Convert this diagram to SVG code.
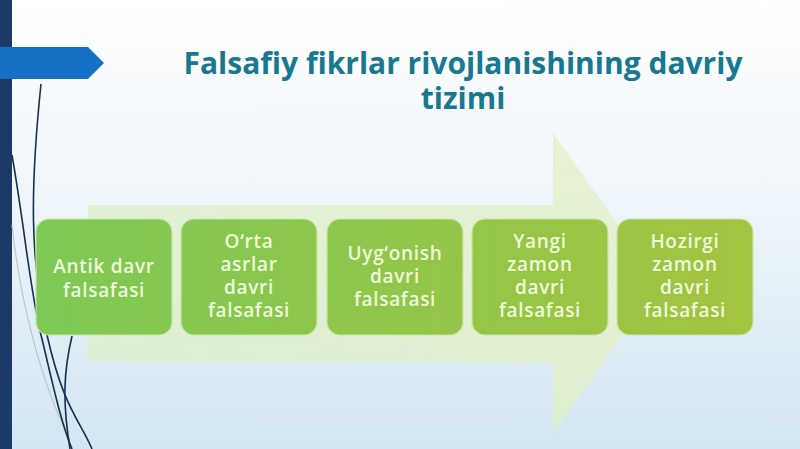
<svg xmlns="http://www.w3.org/2000/svg" width="800" height="449" viewBox="0 0 800 449">
<defs>
<linearGradient id="bg" x1="0" y1="0" x2="0" y2="1">
<stop offset="0" stop-color="#ffffff"/>
<stop offset="0.45" stop-color="#eef5fa"/>
<stop offset="1" stop-color="#d3e6f3"/>
</linearGradient>
<linearGradient id="bigArrow" x1="0" y1="0" x2="1" y2="0">
<stop offset="0" stop-color="#dcefc8"/>
<stop offset="1" stop-color="#e4f0c6"/>
</linearGradient>
<linearGradient id="boxFill" gradientUnits="userSpaceOnUse" x1="36" y1="0" x2="753" y2="0">
<stop offset="0" stop-color="#7ec855"/>
<stop offset="1" stop-color="#a3c43f"/>
</linearGradient>
<style>
.box{fill:url(#boxFill);stroke:#c8e6a8;stroke-width:1.2;}
.lbl{font-family:"Open Sans","Noto Sans","DejaVu Sans",sans-serif;font-weight:600;font-size:19px;letter-spacing:0.7px;fill:#eef8dc;text-anchor:middle;}
.title{font-family:"Open Sans","Noto Sans","DejaVu Sans",sans-serif;font-weight:700;font-size:30px;fill:#187890;text-anchor:middle;}
.curve{fill:none;stroke:#16304f;stroke-width:1.6;}
</style>
</defs>
<rect x="0" y="0" width="800" height="449" fill="url(#bg)"/>
<rect x="0" y="0" width="12" height="449" fill="#1b3a68"/>
<g id="decor">
<path fill="none" stroke="#b9c6d0" stroke-width="1.2" d="M12,225 C20,300 40,380 70,440"/>
<path class="curve" d="M41,84 C30,190 30,260 47,335 S80,420 92,449"/>
<path class="curve" d="M12,155 C25,230 30,290 41,335 S60,420 72,449"/>
<path class="curve" d="M72,336 C64,370 62,400 70,449"/>
</g>
<polygon points="0,47 88,47 104,63 88,79 0,79" fill="#1570c6"/>
<g id="title">
<text class="title" x="463" y="74">Falsafiy fikrlar rivojlanishining davriy</text>
<text class="title" x="463" y="109">tizimi</text>
</g>
<polygon id="big-arrow" points="88,205 553,205 553,133 660,283 553,433 553,362 88,362" fill="url(#bigArrow)" opacity="0.75"/>
<g id="node-antik">
<rect class="box" x="36" y="219" width="136" height="116" rx="13"/>
<text class="lbl" x="104" y="273">Antik davr</text>
<text class="lbl" x="104" y="297">falsafasi</text>
</g>
<g id="node-orta">
<rect class="box" x="181" y="219" width="136" height="116" rx="13"/>
<text class="lbl" x="249" y="248">O‘rta</text>
<text class="lbl" x="249" y="271">asrlar</text>
<text class="lbl" x="249" y="294">davri</text>
<text class="lbl" x="249" y="317">falsafasi</text>
</g>
<g id="node-uygonish">
<rect class="box" x="327" y="219" width="136" height="116" rx="13"/>
<text class="lbl" x="395" y="260">Uyg‘onish</text>
<text class="lbl" x="395" y="283">davri</text>
<text class="lbl" x="395" y="306">falsafasi</text>
</g>
<g id="node-yangi">
<rect class="box" x="472" y="219" width="136" height="116" rx="13"/>
<text class="lbl" x="540" y="248">Yangi</text>
<text class="lbl" x="540" y="271">zamon</text>
<text class="lbl" x="540" y="294">davri</text>
<text class="lbl" x="540" y="317">falsafasi</text>
</g>
<g id="node-hozirgi">
<rect class="box" x="617" y="219" width="136" height="116" rx="13"/>
<text class="lbl" x="685" y="248">Hozirgi</text>
<text class="lbl" x="685" y="271">zamon</text>
<text class="lbl" x="685" y="294">davri</text>
<text class="lbl" x="685" y="317">falsafasi</text>
</g>
<g id="connectors"></g>
</svg>
